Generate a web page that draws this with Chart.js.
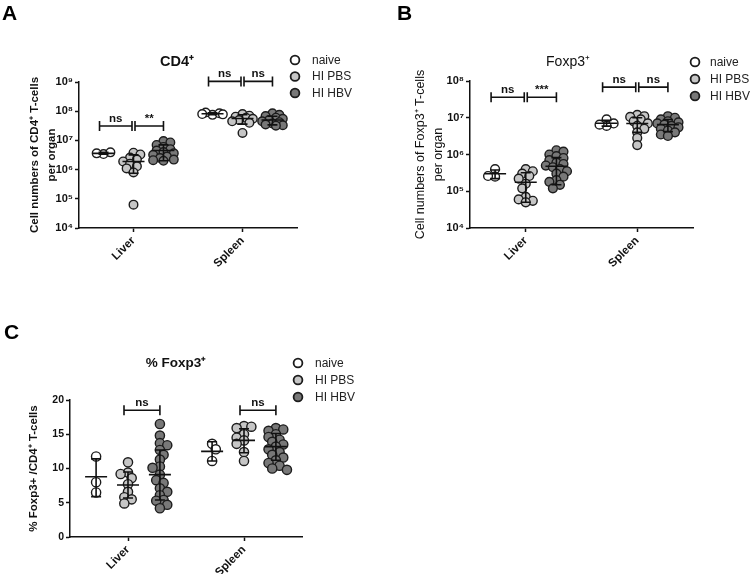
<!DOCTYPE html>
<html>
<head>
<meta charset="utf-8">
<script src="https://cdn.jsdelivr.net/npm/chart.js@4.4.0/dist/chart.umd.min.js"></script>
<style>
  body { margin: 0; background: #fff; font-family: "Liberation Sans", Arial, sans-serif; }
  #page { position: relative; width: 750px; height: 574px; overflow: hidden; }
  canvas { position: absolute; }
  .letter { position: absolute; font-weight: bold; font-size: 21px; line-height: 21px; color: #000; }
</style>
</head>
<body>
<div id="page">
  <canvas id="chartA" width="375" height="290" style="left:0;top:0"></canvas>
  <canvas id="chartB" width="375" height="290" style="left:375px;top:0"></canvas>
  <canvas id="chartC" width="375" height="284" style="left:0;top:290px"></canvas>
  <div class="letter" style="left:2px;top:2px">A</div>
  <div class="letter" style="left:397px;top:2px">B</div>
  <div class="letter" style="left:4px;top:321px">C</div>
</div>
<script>
const organs = ['Liver', 'Spleen'];
const groups = ['naive', 'HI PBS', 'HI HBV'];
const groupFill = ['#ffffff', '#c6c6c6', '#787878'];
const groupShift = [-0.275, 0, 0.275];

// A - CD4+ T-cells per organ, each group: [liver values, spleen values]
const cd4Naive = [[3.4e6, 3.9e6, 3.6e6], [7.5e7, 8.5e7, 9.0e7, 8.0e7, 7.8e7]];
const cd4Pbs = [[3.8e6, 3.3e6, 2.6e6, 2.2e6, 1.9e6, 1.6e6, 1.3e6, 1.1e6, 8.0e5, 6.3e4],
                [8.0e7, 7.0e7, 6.5e7, 6.0e7, 5.5e7, 5.0e7, 4.5e7, 4.0e7, 1.8e7]];
const cd4Hbv = [[9.5e6, 8.5e6, 7.0e6, 6.0e6, 5.0e6, 4.5e6, 4.0e6, 3.6e6, 3.2e6, 2.8e6, 2.5e6, 2.2e6, 2.1e6, 2.0e6],
                [8.5e7, 7.5e7, 6.8e7, 6.0e7, 5.5e7, 5.0e7, 4.5e7, 4.2e7, 3.8e7, 3.5e7, 3.3e7, 3.2e7]];
// mean / SD limits, per organ: [naive, PBS, HBV]
const cd4Mean = [[3.6e6, 1.9e6, 4.5e6], [8.2e7, 5.6e7, 5.0e7]];
const cd4Low = [[3.35e6, 0.75e6, 2.0e6], [7.6e7, 3.6e7, 3.4e7]];
const cd4High = [[3.9e6, 3.2e6, 7.0e6], [8.8e7, 7.6e7, 6.7e7]];
const cd4Ticks = [1e4, 1e5, 1e6, 1e7, 1e8, 1e9];
const cd4TickLabels = ['10⁴', '10⁵', '10⁶', '10⁷', '10⁸', '10⁹'];
const cd4Brackets = [
  { organ: 0, from: 0, to: 1, y: 3.1e7, text: 'ns' },
  { organ: 0, from: 1, to: 2, y: 3.1e7, text: '**' },
  { organ: 1, from: 0, to: 1, y: 1.05e9, text: 'ns' },
  { organ: 1, from: 1, to: 2, y: 1.05e9, text: 'ns' }
];

// B - Foxp3+ T-cells per organ
const foxNaive = [[4.0e5, 2.5e5, 2.6e5], [9.0e6, 7.0e6, 6.0e6, 6.5e6]];
const foxPbs = [[4.0e5, 3.5e5, 3.0e5, 2.6e5, 2.2e5, 1.6e5, 1.2e5, 7.0e4, 6.0e4, 5.5e4, 5.0e4],
                [1.2e7, 1.1e7, 1.05e7, 9.0e6, 8.0e6, 7.0e6, 6.0e6, 5.0e6, 4.0e6, 2.8e6, 1.8e6]];
const foxHbv = [[1.3e6, 1.2e6, 1.0e6, 9.0e5, 8.0e5, 7.0e5, 6.0e5, 5.5e5, 5.0e5, 4.5e5, 4.0e5, 3.5e5, 3.0e5, 2.5e5, 2.0e5, 1.8e5, 1.5e5, 1.2e5],
                [1.1e7, 1.0e7, 9.0e6, 8.0e6, 7.5e6, 7.0e6, 6.5e6, 6.0e6, 5.5e6, 5.0e6, 4.5e6, 4.0e6, 3.5e6, 3.2e6]];
const foxMean = [[3.0e5, 1.75e5, 4.8e5], [7.1e6, 7.0e6, 6.5e6]];
const foxLow = [[2.2e5, 5.0e4, 1.5e5], [5.9e6, 4.0e6, 4.2e6]];
const foxHigh = [[3.8e5, 3.2e5, 8.2e5], [8.5e6, 1.0e7, 9.0e6]];
const foxTicks = [1e4, 1e5, 1e6, 1e7, 1e8];
const foxTickLabels = ['10⁴', '10⁵', '10⁶', '10⁷', '10⁸'];
const foxBrackets = [
  { organ: 0, from: 0, to: 1, y: 3.6e7, text: 'ns' },
  { organ: 0, from: 1, to: 2, y: 3.6e7, text: '***' },
  { organ: 1, from: 0, to: 1, y: 6.8e7, text: 'ns' },
  { organ: 1, from: 1, to: 2, y: 6.8e7, text: 'ns' }
];

// C - % Foxp3+ of CD4+ T-cells
const pctNaive = [[11.75, 8.0, 6.5], [13.6, 12.8, 11.1]];
const pctPbs = [[10.9, 9.4, 9.2, 8.6, 7.7, 6.6, 5.8, 5.5, 4.9],
                [16.2, 16.1, 15.9, 15.0, 14.5, 14.1, 13.6, 12.4, 11.1]];
const pctHbv = [[16.5, 14.8, 13.7, 13.4, 12.7, 12.0, 11.3, 10.3, 10.1, 9.1, 8.3, 7.9, 7.1, 6.6, 6.1, 5.4, 5.3, 4.7, 4.2],
                [15.9, 15.7, 15.5, 15.0, 14.6, 14.2, 13.9, 13.5, 13.2, 12.8, 12.4, 12.0, 11.6, 11.2, 10.8, 10.4, 10.0, 9.8]];
const pctMean = [[8.8, 7.6, 9.1], [12.5, 14.1, 13.2]];
const pctLow = [[5.9, 5.7, 5.4], [11.1, 12.3, 11.2]];
const pctHigh = [[11.4, 9.5, 12.7], [13.9, 15.8, 15.1]];
const pctTicks = [0, 5, 10, 15, 20];
const pctTickLabels = ['0', '5', '10', '15', '20'];
const pctBrackets = [
  { organ: 0, from: 1, to: 2, y: 18.5, text: 'ns' },
  { organ: 1, from: 1, to: 2, y: 18.5, text: 'ns' }
];

Chart.defaults.font.family = '"Liberation Sans", Arial, sans-serif';
Chart.defaults.color = '#111';

// mean/SD bars, significance brackets, title and legend
const prismDecor = {
  id: 'prismDecor',
  afterDatasetsDraw(chart, args, o) {
    const { ctx, scales: { x, y } } = chart;
    ctx.save();
    ctx.strokeStyle = '#111';
    ctx.lineWidth = 1.6;
    o.mean.forEach((row, c) => row.forEach((m, g) => {
      const cx = x.getPixelForValue(c + 0.5 + groupShift[g]);
      const ym = y.getPixelForValue(m);
      const yl = y.getPixelForValue(o.low[c][g]);
      const yh = y.getPixelForValue(o.high[c][g]);
      ctx.beginPath();
      ctx.moveTo(cx - 11, ym); ctx.lineTo(cx + 11, ym);
      ctx.moveTo(cx, yl); ctx.lineTo(cx, yh);
      ctx.moveTo(cx - 5, yl); ctx.lineTo(cx + 5, yl);
      ctx.moveTo(cx - 5, yh); ctx.lineTo(cx + 5, yh);
      ctx.stroke();
    }));

    ctx.fillStyle = '#111';
    ctx.font = 'bold 11.5px "Liberation Sans", Arial, sans-serif';
    ctx.textAlign = 'center';
    ctx.textBaseline = 'alphabetic';
    o.brackets.forEach(b => {
      // where two brackets meet, leave a small gap so the caps show as "||"
      const joinLeft = o.brackets.some(q => q.organ === b.organ && q.to === b.from);
      const joinRight = o.brackets.some(q => q.organ === b.organ && q.from === b.to);
      const x1 = x.getPixelForValue(b.organ + 0.5 + groupShift[b.from]) + (joinLeft ? 1.5 : -4);
      const x2 = x.getPixelForValue(b.organ + 0.5 + groupShift[b.to]) - (joinRight ? 1.5 : 0);
      const by = y.getPixelForValue(b.y);
      ctx.beginPath();
      ctx.moveTo(x1, by); ctx.lineTo(x2, by);
      ctx.moveTo(x1, by - 5); ctx.lineTo(x1, by + 5);
      ctx.moveTo(x2, by - 5); ctx.lineTo(x2, by + 5);
      ctx.stroke();
      ctx.fillText(b.text, (x1 + x2) / 2, by - 4);
    });

    // title
    ctx.font = o.title.font;
    ctx.textBaseline = 'middle';
    ctx.fillText(o.title.text, o.title.x, o.title.y);

    // legend
    ctx.font = '12px "Liberation Sans", Arial, sans-serif';
    ctx.textAlign = 'left';
    ctx.lineWidth = 1.8;
    chart.data.datasets.forEach((ds, i) => {
      const ly = o.legend.y + i * o.legend.dy;
      ctx.beginPath();
      ctx.arc(o.legend.x, ly, 4.4, 0, Math.PI * 2);
      ctx.fillStyle = ds.backgroundColor;
      ctx.fill();
      ctx.strokeStyle = '#1c1c1c';
      ctx.stroke();
      ctx.fillStyle = '#222';
      ctx.fillText(ds.label, o.legend.tx, ly + 0.5);
    });
    ctx.restore();
  }
};

// spread the points of one column a little sideways (column scatter, overlaps allowed)
function swarm(chart, r) {
  const { x, y } = chart.scales;
  chart.data.datasets.forEach(ds => {
    const placed = {};
    ds.data.forEach(p => {
      const done = placed[p.base] = placed[p.base] || [];
      const cx = x.getPixelForValue(p.base);
      const py = y.getPixelForValue(p.y);
      const side = done.length % 2 ? 1 : -1;
      let best = cx, bestD = -1;
      for (let k = 0; k < 7; k++) {
        const px = cx + (k % 2 ? side : -side) * Math.ceil(k / 2) * r * 0.8;
        const d = done.reduce((m, q) => Math.min(m, Math.hypot(q[0] - px, q[1] - py)), Infinity);
        if (d >= r * 1.25) { best = px; break; }
        if (d > bestD) { bestD = d; best = px; }
      }
      done.push([best, py]);
      p.x = x.getValueForPixel(best);
    });
  });
  chart.update('none');
}

function makeChart(id, cfg) {
  const datasets = cfg.series.map((sets, g) => ({
    label: groups[g],
    data: sets.flatMap((vals, c) => vals.map(v => {
      const base = c + 0.5 + groupShift[g];
      return { x: base, y: v, base: base };
    })),
    backgroundColor: groupFill[g],
    borderColor: '#1c1c1c',
    borderWidth: 1.4,
    pointRadius: cfg.radius,
    pointHoverRadius: cfg.radius
  }));

  const chart = new Chart(document.getElementById(id), {
    type: 'scatter',
    data: { datasets: datasets },
    options: {
      responsive: false,
      animation: false,
      layout: { padding: cfg.padding },
      plugins: {
        legend: { display: false },
        tooltip: { enabled: false },
        prismDecor: cfg.decor
      },
      scales: {
        x: {
          type: 'linear', min: 0, max: 2,
          afterBuildTicks: s => { s.ticks = organs.map((o, i) => ({ value: i + 0.5 })); },
          afterFit: s => { s.height = cfg.xHeight; },
          ticks: {
            callback: (v, i) => organs[i],
            autoSkip: false, minRotation: 45, maxRotation: 45, padding: 2,
            color: '#111', font: { size: 11.5, weight: 'bold' }
          },
          grid: { drawOnChartArea: false, tickLength: 4, tickColor: '#111', tickWidth: 1.5 },
          border: { color: '#111', width: 1.5 }
        },
        y: {
          type: cfg.yType,
          min: cfg.yTicks[0], max: cfg.yTicks[cfg.yTicks.length - 1],
          afterBuildTicks: s => { s.ticks = cfg.yTicks.map(v => ({ value: v })); },
          afterFit: s => { s.width = cfg.yWidth; },
          ticks: {
            callback: (v, i) => cfg.yLabels[i],
            padding: 2, color: '#111', font: { size: cfg.tickSize, weight: 'bold' }
          },
          grid: { drawOnChartArea: false, tickLength: 4, tickColor: '#111', tickWidth: 1.5 },
          border: { color: '#111', width: 1.5 },
          title: {
            display: true, text: cfg.yTitle, color: '#111',
            font: cfg.yTitleFont, padding: { top: cfg.yTitlePad, bottom: 0 }
          }
        }
      }
    },
    plugins: [prismDecor]
  });
  swarm(chart, cfg.radius);
  return chart;
}

makeChart('chartA', {
  series: [cd4Naive, cd4Pbs, cd4Hbv],
  radius: 4.3,
  padding: { top: 82, right: 78, bottom: 0, left: 0 },
  xHeight: 62,
  yType: 'logarithmic', yTicks: cd4Ticks, yLabels: cd4TickLabels, yWidth: 79, tickSize: 11,
  yTitle: ['Cell numbers of CD4⁺ T-cells', 'per organ'],
  yTitleFont: { size: 11.5, weight: 'bold', lineHeight: 1.5 }, yTitlePad: 26,
  decor: {
    mean: cd4Mean, low: cd4Low, high: cd4High, brackets: cd4Brackets,
    title: { text: 'CD4⁺', x: 177, y: 62, font: 'bold 14.5px "Liberation Sans", Arial, sans-serif' },
    legend: { x: 295, tx: 312, y: 60, dy: 16.5 }
  }
});

makeChart('chartB', {
  series: [foxNaive, foxPbs, foxHbv],
  radius: 4.4,
  padding: { top: 81, right: 57, bottom: 0, left: 0 },
  xHeight: 62,
  yType: 'logarithmic', yTicks: foxTicks, yLabels: foxTickLabels, yWidth: 95, tickSize: 11,
  yTitle: ['Cell numbers of Foxp3⁺ T-cells', 'per organ'],
  yTitleFont: { size: 12.5, weight: 'normal', lineHeight: 1.4 }, yTitlePad: 37,
  decor: {
    mean: foxMean, low: foxLow, high: foxHigh, brackets: foxBrackets,
    title: { text: 'Foxp3⁺', x: 193, y: 62, font: '14px "Liberation Sans", Arial, sans-serif' },
    legend: { x: 320, tx: 335, y: 62, dy: 17 }
  }
});

makeChart('chartC', {
  series: [pctNaive, pctPbs, pctHbv],
  radius: 4.6,
  padding: { top: 110, right: 73, bottom: 0, left: 0 },
  xHeight: 37,
  yType: 'linear', yTicks: pctTicks, yLabels: pctTickLabels, yWidth: 70, tickSize: 10.5,
  yTitle: '% Foxp3+ /CD4⁺ T-cells',
  yTitleFont: { size: 11.5, weight: 'bold', lineHeight: 1.2 }, yTitlePad: 27,
  decor: {
    mean: pctMean, low: pctLow, high: pctHigh, brackets: pctBrackets,
    title: { text: '% Foxp3⁺', x: 176, y: 73, font: 'bold 13.5px "Liberation Sans", Arial, sans-serif' },
    legend: { x: 298, tx: 315, y: 73, dy: 17 }
  }
});
</script>
</body>
</html>
